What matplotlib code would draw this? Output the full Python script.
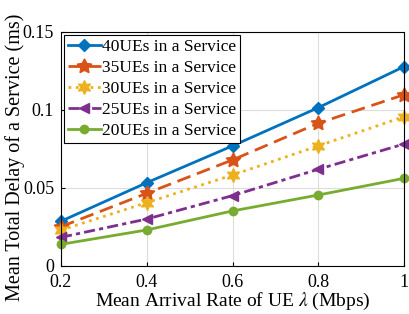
import matplotlib
matplotlib.use('Agg')
import matplotlib.pyplot as plt

plt.rcParams['font.family'] = ['Liberation Serif', 'DejaVu Serif']
plt.rcParams['mathtext.fontset'] = 'stix'

rates = [0.2, 0.4, 0.6, 0.8, 1.0]
labels = ['40UEs in a Service', '35UEs in a Service', '30UEs in a Service',
          '25UEs in a Service', '20UEs in a Service']
ue40 = [0.0287, 0.0534, 0.0770, 0.1015, 0.1278]
ue35 = [0.0252, 0.0466, 0.0680, 0.0915, 0.1098]
ue30 = [0.0230, 0.0406, 0.0583, 0.0770, 0.0957]
ue25 = [0.0184, 0.0301, 0.0451, 0.0620, 0.0782]
ue20 = [0.0139, 0.0231, 0.0353, 0.0455, 0.0562]

series = [ue40, ue35, ue30, ue25, ue20]
colors = ['#0072BD', '#D95319', '#EDB120', '#7E2F8E', '#77AC30']
styles = ['-', (0, (5, 2.5)), ':', (0, (4, 1.5, 1.5, 1.5)), '-']
markers = ['D', (5, 1, 0), (6, 1, 0), '<', 'o']
msizes = [6, 11, 10, 7, 6]

fig = plt.figure(figsize=(4.09, 3.14), dpi=100)
ax = fig.add_axes([61 / 409, 48 / 314, 343 / 409, 234 / 314])

for y, lab, c, ls, m, ms in zip(series, labels, colors, styles, markers, msizes):
    ax.plot(rates, y, color=c, linestyle=ls, linewidth=2, marker=m,
            markersize=ms, label=lab, clip_on=False)

ax.set_xlim(0.2, 1)
ax.set_ylim(0, 0.15)
ax.set_xticks(rates)
ax.set_xticklabels(['0.2', '0.4', '0.6', '0.8', '1'])
ax.set_yticks([0, 0.05, 0.1, 0.15])
ax.set_yticklabels(['0', '0.05', '0.1', '0.15'])
ax.grid(True, color='#dddddd', linewidth=0.8)
ax.set_axisbelow(True)
ax.tick_params(direction='in', labelsize=13, length=3)
ax.tick_params(axis='x', pad=6)
ax.tick_params(axis='y', pad=5)
ax.set_xlabel(r'Mean Arrival Rate of UE $\lambda$ (Mbps)', fontsize=14, labelpad=0)
ax.set_ylabel('Mean Total Delay of a Service (ms)', fontsize=14.5)
ax.yaxis.set_label_coords(-36 / 343, 0.465)

leg = ax.legend(loc='upper left', fontsize=12.5, handlelength=1.9, handletextpad=0.05,
                labelspacing=0.28, borderpad=0.25, borderaxespad=0.15,
                fancybox=False, framealpha=1)
leg.get_frame().set_edgecolor('black')
leg.get_frame().set_linewidth(0.8)

plt.savefig('out.png', dpi=100)
